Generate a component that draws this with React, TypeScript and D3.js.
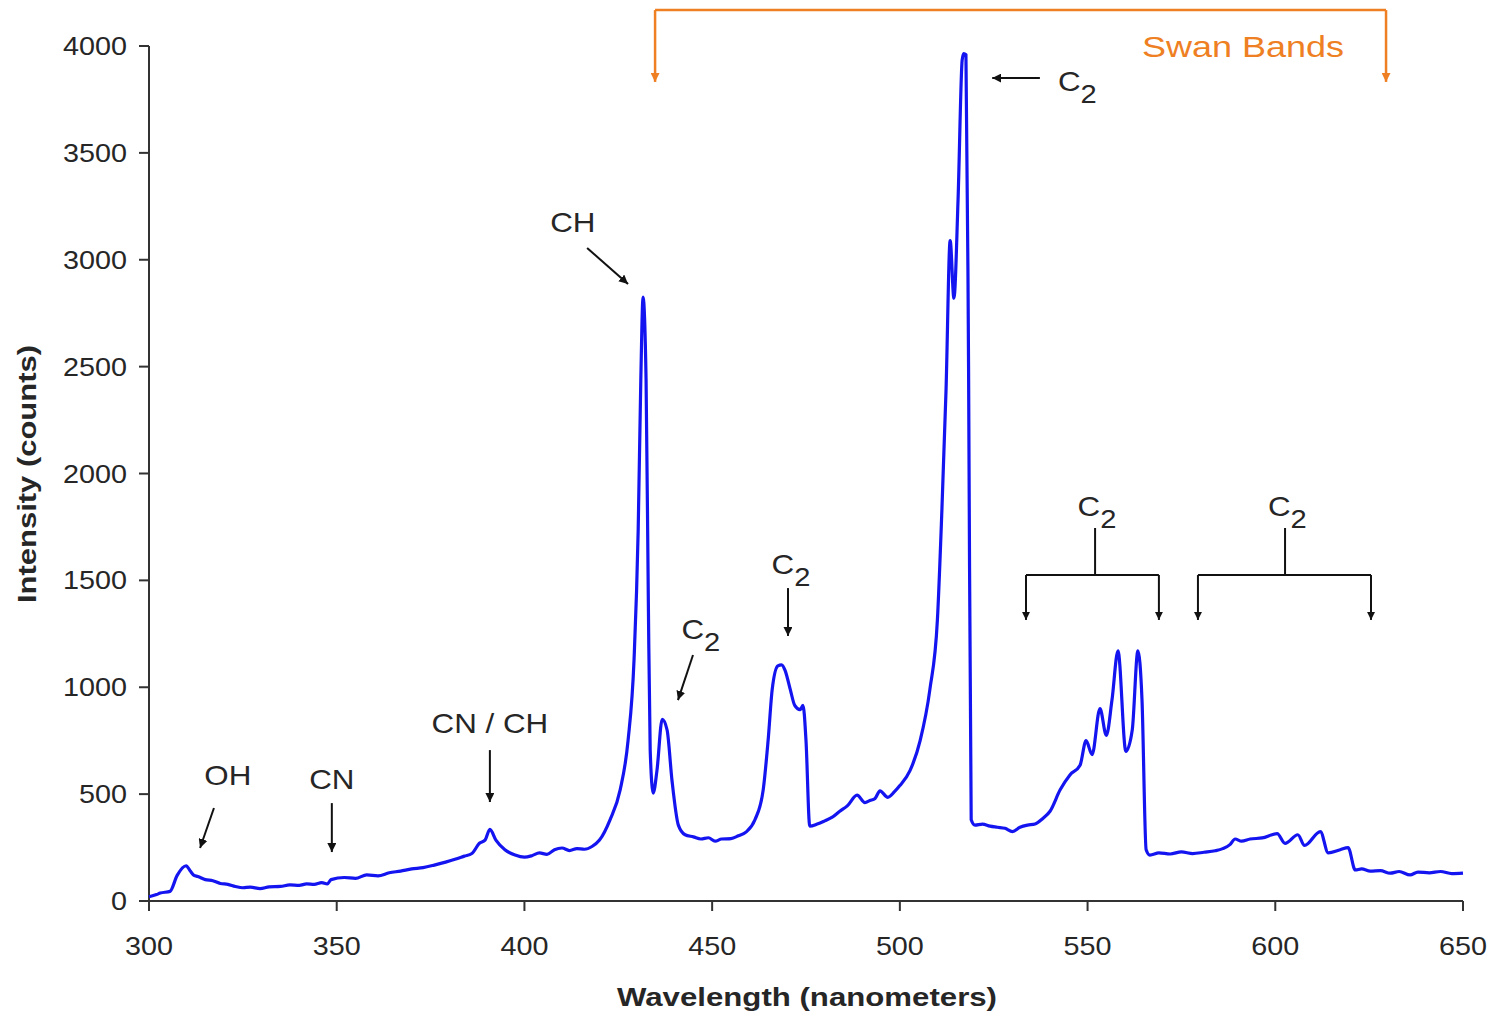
import React from "react";
import * as d3 from "d3";

// ---- data ----
const spectrum: [number, number][] = [
  [300, 20], [302, 30], [303, 37], [305.6, 45], [307.5, 120], [309.9, 165], [311, 140],
  [312, 120], [313, 115], [315, 100], [317, 95], [319, 82], [321, 78], [323, 68],
  [325, 62], [327, 65], [329.6, 58], [332, 66], [335, 68], [337.5, 75], [340, 73],
  [342, 80], [344, 78], [346, 86], [347.5, 80], [348.5, 100], [352, 110], [355, 106],
  [358, 122], [361, 118], [364, 132], [367, 140], [370, 150], [373, 156], [376, 168],
  [379, 182], [381.5, 195], [384, 210], [386, 222], [388, 270], [389.5, 285],
  [390.8, 335], [392.4, 285], [394.8, 240], [397.5, 215], [400, 205], [402, 212],
  [404, 225], [406, 218], [408, 240], [410, 248], [412, 236], [414, 245], [416, 242],
  [418, 255], [420, 285], [422.8, 380], [425.5, 520], [427.6, 750], [429.2, 1130],
  [430.3, 1735], [431, 2440], [431.6, 2825], [432.4, 2440], [433, 1410], [433.5, 705],
  [434.3, 505], [435.3, 610], [436.7, 850], [438, 800], [439.3, 565], [441, 355],
  [442.8, 310], [445, 300], [447, 290], [449, 296], [450.8, 280], [452.5, 290],
  [455, 292], [457, 305], [459, 322], [461.4, 380], [463.6, 520], [464.9, 750],
  [466, 990], [467.5, 1100], [468.5, 1105], [469.4, 1080], [470.8, 990], [472, 915],
  [473.4, 895], [474.2, 915], [475, 750], [476, 350], [478, 360], [480, 375],
  [482, 392], [484, 420], [486, 445], [488.6, 495], [490.7, 460], [492, 470],
  [493.4, 480], [494.7, 515], [496.8, 485], [498.5, 510], [500, 540], [502.7, 610],
  [505.4, 750], [508, 990], [510, 1315], [511.2, 1830], [512.3, 2390], [513.4, 3090],
  [514.4, 2820], [515.5, 3280], [516.6, 3935], [517.0, 3965], [517.6, 3960],
  [518.3, 2500], [519, 380], [520, 355], [522, 360], [524, 350], [526, 345],
  [528, 340], [530, 325], [532, 345], [534, 355], [536, 360], [538, 385], [540, 420],
  [542.7, 520], [545.3, 590], [548, 635], [549.6, 750], [551.2, 685], [553.3, 900],
  [555, 775], [556.5, 940], [558.1, 1170], [560.2, 700], [561.9, 800], [563.4, 1170],
  [564.5, 940], [565.6, 240], [566.6, 215], [569, 225], [572, 220], [575, 230],
  [578, 222], [581, 228], [584, 235], [586, 245], [588, 265], [589.3, 290], [591, 280],
  [593.3, 290], [596.5, 295], [600.5, 315], [602.6, 270], [606, 310], [607.8, 260],
  [612, 325], [614.1, 225], [617.3, 240], [619.4, 250], [621.3, 145], [623, 150],
  [625.3, 140], [628, 142], [630.6, 130], [633, 138], [635.9, 122], [638, 135],
  [641, 132], [644, 138], [647, 128], [650, 130],
];

const xTicks = [300, 350, 400, 450, 500, 550, 600, 650];
const yTicks = [0, 500, 1000, 1500, 2000, 2500, 3000, 3500, 4000];

// labels: text, optional subscript, wavelength, counts (baseline)
const labels = [
  { text: "OH", sub: "", x: 321.0, y: 543 },
  { text: "CN", sub: "", x: 348.7, y: 524 },
  { text: "CN / CH", sub: "", x: 390.8, y: 786 },
  { text: "CH", sub: "", x: 412.9, y: 3130 },
  { text: "C", sub: "2", x: 447.0, y: 1225 },
  { text: "C", sub: "2", x: 471.0, y: 1530 },
  { text: "C", sub: "2", x: 552.5, y: 1800 },
  { text: "C", sub: "2", x: 603.2, y: 1800 },
];
const topC2 = { text: "C", sub: "2", x: 542.1, y: 3790 };

// arrows: from -> to (wavelength, counts)
const arrows = [
  { x1: 317.3, y1: 435, x2: 313.6, y2: 248 },
  { x1: 348.7, y1: 458, x2: 348.7, y2: 229 },
  { x1: 390.8, y1: 706, x2: 390.8, y2: 463 },
  { x1: 416.7, y1: 3055, x2: 427.6, y2: 2887 },
  { x1: 444.9, y1: 1151, x2: 440.9, y2: 940 },
  { x1: 470.2, y1: 1464, x2: 470.2, y2: 1240 },
  { x1: 537.3, y1: 3850, x2: 524.6, y2: 3850 },
];

// brackets: left, right, stem x (wavelength); bar, drop, stem top (counts)
const brackets = [
  { left: 533.6, right: 569.0, mid: 552.0, bar: 1525, drop: 1315, top: 1745 },
  { left: 579.4, right: 625.5, mid: 602.6, bar: 1525, drop: 1315, top: 1745 },
];
const swan = { left: 434.8, right: 629.5, bar: 4168, drop: 3832, label: "Swan Bands", lx: 591.4, ly: 3950 };

const FONT = "'Liberation Sans', Arial, Helvetica, sans-serif";
const TXT = "#262626";
const ORANGE = "#EE7F22";

export default function App() {
  const x = d3.scaleLinear().domain([300, 650]).range([149, 1463]);
  const y = d3.scaleLinear().domain([0, 4000]).range([901, 46]);
  const line = d3
    .line<[number, number]>()
    .x((d) => x(d[0]))
    .y((d) => y(d[1]))
    .curve(d3.curveMonotoneX);

  const label = (l: { text: string; sub: string; x: number; y: number }, i: number, anchor = "middle") => (
    <text
      key={i}
      transform={`translate(${x(l.x)},${y(l.y)}) scale(1.12,1)`}
      textAnchor={anchor}
      fontSize={28}
      fill={TXT}
      fontFamily={FONT}
    >
      {l.text}
      {l.sub ? <tspan dy={12} fontSize={26}>{l.sub}</tspan> : null}
    </text>
  );

  return (
    <svg
      width={1495}
      height={1014}
      style={{ position: "absolute", left: 0, top: 0, background: "#fff" }}
      fontFamily={FONT}
    >
      <defs>
        <marker id="ah" viewBox="0 0 10 10" refX="10" refY="5" markerWidth="9" markerHeight="9"
          markerUnits="userSpaceOnUse" orient="auto">
          <path d="M0,0 L10,5 L0,10 z" fill="#111" />
        </marker>
        <marker id="ahs" viewBox="0 0 10 10" refX="10" refY="5" markerWidth="8" markerHeight="8"
          markerUnits="userSpaceOnUse" orient="auto">
          <path d="M0,0 L10,5 L0,10 z" fill="#111" />
        </marker>
        <marker id="aho" viewBox="0 0 10 10" refX="10" refY="5" markerWidth="9" markerHeight="9"
          markerUnits="userSpaceOnUse" orient="auto">
          <path d="M0,0 L10,5 L0,10 z" fill={ORANGE} />
        </marker>
      </defs>

      {/* axes */}
      <line x1={x(300)} x2={x(650)} y1={y(0)} y2={y(0)} stroke="#333" strokeWidth={2} />
      <line x1={x(300)} x2={x(300)} y1={y(0)} y2={y(4000)} stroke="#333" strokeWidth={2} />
      {xTicks.map((t) => (
        <g key={"x" + t}>
          <line x1={x(t)} x2={x(t)} y1={y(0)} y2={y(0) + 10} stroke="#333" strokeWidth={2} />
          <text transform={`translate(${x(t)},${y(0) + 54}) scale(1.15,1)`} textAnchor="middle"
            fontSize={25} fill={TXT}>
            {t}
          </text>
        </g>
      ))}
      {yTicks.map((t) => (
        <g key={"y" + t}>
          <line x1={x(300) - 10} x2={x(300)} y1={y(t)} y2={y(t)} stroke="#333" strokeWidth={2} />
          <text transform={`translate(${x(300) - 22},${y(t) + 9}) scale(1.15,1)`} textAnchor="end"
            fontSize={25} fill={TXT}>
            {t}
          </text>
        </g>
      ))}
      <text x={807} y={1006} textAnchor="middle" fontSize={25} fontWeight="bold" fill={TXT}
        textLength={380} lengthAdjust="spacingAndGlyphs">
        Wavelength (nanometers)
      </text>
      <text transform={`translate(36,474) rotate(-90)`} textAnchor="middle" fontSize={26}
        fontWeight="bold" fill={TXT} textLength={258} lengthAdjust="spacingAndGlyphs">
        Intensity (counts)
      </text>

      {/* spectrum */}
      <path d={line(spectrum) || ""} fill="none" stroke="#1414F0" strokeWidth={3.2} strokeLinejoin="round" />

      {/* annotations */}
      {arrows.map((a, i) => (
        <line key={"a" + i} x1={x(a.x1)} y1={y(a.y1)} x2={x(a.x2)} y2={y(a.y2)}
          stroke="#111" strokeWidth={2} markerEnd="url(#ah)" />
      ))}
      {labels.map((l, i) => label(l, i))}
      {label(topC2, 99, "start")}

      {brackets.map((b, i) => (
        <g key={"b" + i} stroke="#111" strokeWidth={2} fill="none">
          <line x1={x(b.mid)} x2={x(b.mid)} y1={y(b.top)} y2={y(b.bar)} />
          <line x1={x(b.left)} x2={x(b.right)} y1={y(b.bar)} y2={y(b.bar)} />
          <line x1={x(b.left)} x2={x(b.left)} y1={y(b.bar)} y2={y(b.drop)} markerEnd="url(#ahs)" />
          <line x1={x(b.right)} x2={x(b.right)} y1={y(b.bar)} y2={y(b.drop)} markerEnd="url(#ahs)" />
        </g>
      ))}

      <g stroke={ORANGE} strokeWidth={2.5} fill="none">
        <line x1={x(swan.left)} x2={x(swan.right)} y1={y(swan.bar)} y2={y(swan.bar)} />
        <line x1={x(swan.left)} x2={x(swan.left)} y1={y(swan.bar)} y2={y(swan.drop)} markerEnd="url(#aho)" />
        <line x1={x(swan.right)} x2={x(swan.right)} y1={y(swan.bar)} y2={y(swan.drop)} markerEnd="url(#aho)" />
      </g>
      <text transform={`translate(${x(swan.lx)},${y(swan.ly)}) scale(1.2,1)`} textAnchor="middle"
        fontSize={30} fill={ORANGE}>
        {swan.label}
      </text>
    </svg>
  );
}
